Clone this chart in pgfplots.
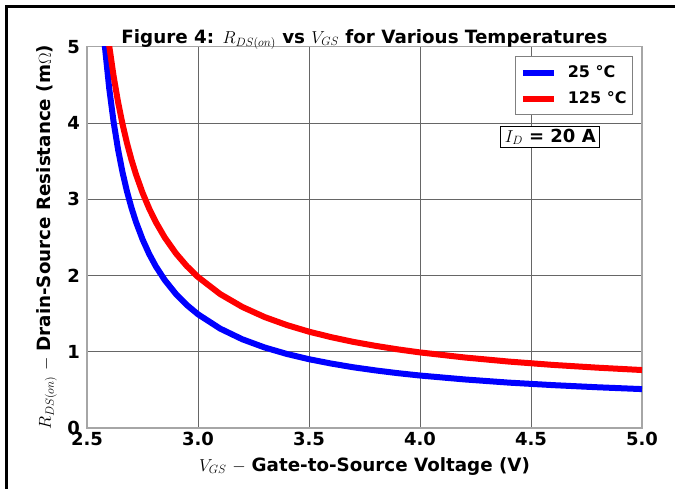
\documentclass[border=0pt]{standalone}
\usepackage{fontspec}
\setmainfont{DejaVu Sans}
\usepackage{pgfplots}
\pgfplotsset{compat=1.18}
\pgfplotstableread{
V R
2.58 5.018
2.60 4.455
2.62 4.010
2.64 3.650
2.66 3.353
2.68 3.103
2.70 2.890
2.72 2.707
2.75 2.475
2.78 2.282
2.81 2.120
2.85 1.941
2.90 1.759
2.95 1.612
3.00 1.491
3.10 1.303
3.20 1.163
3.30 1.056
3.40 0.971
3.50 0.902
3.60 0.845
3.70 0.796
3.80 0.755
3.90 0.719
4.00 0.688
4.20 0.637
4.40 0.595
4.60 0.562
4.80 0.534
5.00 0.510
}\lowtemp
\pgfplotstableread{
V R
2.60 5.013
2.62 4.611
2.64 4.273
2.66 3.985
2.68 3.737
2.70 3.521
2.72 3.331
2.75 3.086
2.78 2.878
2.81 2.700
2.85 2.499
2.90 2.292
2.95 2.122
3.00 1.980
3.10 1.756
3.20 1.587
3.30 1.455
3.40 1.350
3.50 1.263
3.60 1.191
3.70 1.129
3.80 1.077
3.90 1.031
4.00 0.991
4.20 0.925
4.40 0.871
4.60 0.827
4.80 0.791
5.00 0.760
}\hightemp
\begin{document}
\fontsize{18}{21}\selectfont
\begin{tikzpicture}[x=1pt,y=1pt]
\useasboundingbox (0,0) rectangle (675,489);
\draw[line width=3pt] (5,482) -- (675,482);
\draw[line width=3pt] (6.5,483.5) -- (6.5,0);
\begin{axis}[
  at={(87pt,61pt)}, anchor=south west,
  scale only axis, width=555pt, height=381.3pt,
  xmin=2.5, xmax=5, ymin=0, ymax=5,
  xtick={2.5,3.0,3.5,4.0,4.5,5.0},
  xticklabels={2.5,3.0,3.5,4.0,4.5,5.0},
  ytick={0,1,2,3,4,5},
  yticklabels={0,1,2,3,4,5},
  /pgf/number format/assume math mode=true,
  major tick length=0pt,
  tick label style={font=\bfseries\fontsize{18}{21}\selectfont},
  xticklabel style={anchor=base, yshift=-18pt},
  yticklabel style={anchor=east, inner sep=0pt, xshift=-7pt},
  grid=major,
  major grid style={draw=black!60, line width=0.8pt},
  axis line style={draw=black!35, line width=1.5pt},
  xlabel={$V_{GS}$ $-$ \bfseries Gate-to-Source Voltage (V)},
  ylabel={$R_{DS(on)}$ $-$ \bfseries Drain-Source Resistance (m$\Omega$)},
  every axis x label/.style={at={(axis description cs:0.5,-0.1128)}, anchor=base, font=\fontsize{18.3}{21}\selectfont},
  every axis y label/.style={at={(axis description cs:-0.0721,0.5)}, anchor=center, rotate=90, font=\fontsize{18.3}{21}\selectfont},
  title={\bfseries Figure 4: $R_{DS(on)}$ vs $V_{GS}$ for Various Temperatures},
  every axis title/.style={at={(axis description cs:0.5,1.009)}, anchor=base, font=\fontsize{18.3}{21}\selectfont},
  legend style={at={(axis description cs:0.9838,0.9756)}, anchor=north east,
    draw=black!50, line width=1pt, font=\bfseries\fontsize{16}{18}\selectfont,
    inner xsep=4pt, inner ysep=6pt, row sep=5pt,
    nodes={inner ysep=3pt},
    /tikz/every odd column/.append style={column sep=9pt}},
  legend cell align=left,
  legend image code/.code={\draw[#1, line width=6pt] (0pt,0pt) -- (31pt,0pt);},
]
\addplot[blue, line width=6pt] table[x=V, y=R] {\lowtemp};
\addlegendentry{25 °C}
\addplot[red, line width=6pt] table[x=V, y=R] {\hightemp};
\addlegendentry{125 °C}
\node[draw=black, line width=1pt, fill=white, inner xsep=4pt, inner ysep=2.5pt,
  font=\bfseries\fontsize{18}{21}\selectfont]
  at (axis description cs:0.8347,0.7635) {$I_D$ = 20 A};
\end{axis}
\end{tikzpicture}
\end{document}
